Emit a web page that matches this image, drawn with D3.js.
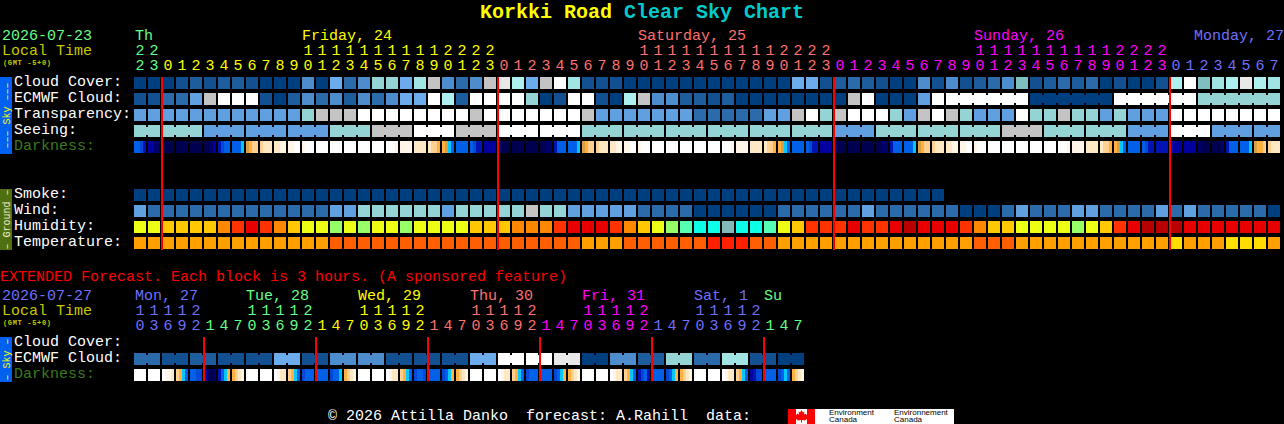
<!DOCTYPE html>
<html>
<head>
<meta charset="utf-8">
<title>Korkki Road Clear Sky Chart</title>
<script src="https://cdn.jsdelivr.net/npm/d3@7"></script>
<style>
body { margin: 0; background: #000; overflow: hidden; }
svg { display: block; }
text { font-family: "Liberation Mono", monospace; font-size: 15px; white-space: pre; }
rect { shape-rendering: crispEdges; }
</style>
</head>
<body>
<div id="chart"></div>
<script>
// ---- hours and days
var mainHours = [22,23,0,1,2,3,4,5,6,7,8,9,10,11,12,13,14,15,16,17,18,19,20,21,22,23,
  0,1,2,3,4,5,6,7,8,9,10,11,12,13,14,15,16,17,18,19,20,21,22,23,
  0,1,2,3,4,5,6,7,8,9,10,11,12,13,14,15,16,17,18,19,20,21,22,23,
  0,1,2,3,4,5,6,7];
var mainDayNames = ["Th", "Friday, 24", "Saturday, 25", "Sunday, 26", "Monday, 27"];
var mainDayStarts = [0, 2, 26, 50, 74];
var mainDayColors = ["#66ff88", "#ffff00", "#ff7070", "#ff00ff", "#7070ff"];

var extHours = [10,13,16,19,22,1,4,7,10,13,16,19,22,1,4,7,10,13,16,19,22,1,4,7,
  10,13,16,19,22,1,4,7,10,13,16,19,22,1,4,7,10,13,16,19,22,1,4,7];
var extDayNames = ["Mon, 27", "Tue, 28", "Wed, 29", "Thu, 30", "Fri, 31", "Sat, 1", "Su"];
var extDayStarts = [0, 5, 13, 21, 29, 37, 45];
var extDayColors = ["#7070ff", "#66ff88", "#ffff00", "#ff7070", "#ff00ff", "#7070ff", "#66ff88"];

// ---- sky rows, level 0 (dark blue) .. 13 (white)
var cloudCover = [0,0,0,1,2,1,2,2,1,0,0,0,4,0,6,3,4,8,8,6,9,
  11,4,3,4,11,12,10,6,11,13,9,1,1,1,0,0,0,0,0,0,0,0,0,0,0,0,6,6,1,2,3,
  2,1,0,0,4,1,4,1,2,3,4,7,1,2,3,2,3,0,1,0,0,1,10,13,7,9,10,12,10,9];
var ecmwfCloud = [1,1,3,3,5,11,13,13,13,1,0,2,4,3,4,2,4,3,4,6,6,
  13,10,2,13,13,13,13,8,0,1,13,13,1,0,10,11,4,4,2,2,1,2,0,0,0,0,0,0,0,0,11,
  13,0,0,0,5,13,13,13,13,13,13,13,0,0,0,0,0,0,13,13,13,13,13,13,8,8,8,8,8,8];
var transparency = [5,5,5,5,5,5,5,5,5,5,5,5,8,11,11,11,13,13,13,13,13,
  13,13,13,11,13,13,13,13,13,13,13,11,5,5,5,5,5,5,5,3,3,3,3,3,5,5,11,13,8,11,13,
  13,13,8,5,11,13,11,8,5,5,5,13,8,8,11,8,8,5,8,5,5,5,13,13,13,13,13,13,13,13];
var seeing = [8,8,8,8,8,5,5,5,5,5,5,5,5,5,8,8,8,11,11,11,13,
  13,13,11,11,11,13,13,13,13,13,13,8,8,8,8,8,8,8,8,8,8,8,8,8,8,8,8,8,8,5,5,
  5,8,8,8,8,8,8,8,8,8,11,11,11,8,8,8,8,8,8,5,5,5,13,13,13,5,5,5,5,5];
var smoke = [0,0,0,0,0,0,0,0,0,0,0,0,0,0,0,0,0,0,0,0,0,0,0,0,0,0,0,0,0,
  0,0,0,0,0,0,0,0,0,0,0,0,0,0,0,0,0,0,0,0,0,0,0,0,0,0,0,0,0];
var wind = [5,3,3,3,3,3,3,3,3,3,3,3,3,3,5,5,8,8,8,8,8,
  8,5,8,8,8,8,8,11,8,8,5,5,5,5,5,3,3,3,3,0,0,0,0,0,0,3,3,3,3,3,3,
  5,3,3,3,3,3,3,0,0,0,3,5,3,3,3,5,5,3,3,3,3,5,3,5,3,3,3,3,3,0];
var extEcmwf = [3,3,1,1,2,2,1,1,1,1,6,6,1,1,4,4,4,4,1,1,1,1,1,1,
  6,6,13,13,13,13,12,12,0,0,4,4,2,2,8,8,3,3,9,9,1,1,0,0];

// ---- humidity level 0 (wet) .. 9 (dry), temperature level 0 (warm) .. 3
var humidity = [5,5,4,4,4,4,3,2,1,2,3,4,5,5,6,5,6,5,5,6,5,
  5,5,5,4,4,4,3,3,3,2,1,1,1,2,3,4,5,6,7,8,8,9,8,8,7,5,4,2,2,2,1,
  2,2,1,0,1,1,1,2,3,4,4,5,5,5,5,6,5,4,2,1,0,0,0,1,1,1,1,1,1,1];
var temperature = [2,2,2,2,2,2,2,2,2,2,2,2,2,2,1,1,1,1,1,1,1,
  1,1,1,1,1,1,1,1,1,1,1,2,2,2,1,1,1,1,1,1,0,0,0,1,1,2,2,2,2,2,2,
  2,2,2,2,2,2,2,2,1,1,1,2,2,2,2,2,2,2,2,2,2,2,3,2,2,2,3,3,3,2];

// ---- darkness, one hex level per quarter block, left to right
var darkness = ["5543","2211","0000","0000","0000","0012","3455","5556","7899","9aaa","aabb","bbcc","bccc",
  "cccc","cccc","cccc","cccc","cccc","cccb","bbbb","aaaa","a998","8765","5555","5433","2222",
  "1000","0000","0000","0011","3555","5556","7899","9aaa","aabb","bbcc","bccc","cccc","cccc","cccc","cccc",
  "cccc","cccb","bbbb","aaaa","a998","8765","5555","5433","2222","1000","0000",
  "0000","0011","3555","5556","7899","9aaa","aabb","bbcc","bccc","cccc","cccc","cccc","cccc","cccc",
  "cccb","bbbb","aaaa","a998","8765","5555","5433","3333","3222","2222","1000","0001","3555","5556","7889","9aaa"];
var extDarkness = ["cccc","cccc","cbba","9865","5544","2101","3568","89ab",
  "cccc","cccc","cbaa","9865","4555","5555","4556","89ab",
  "cccc","cccc","cbaa","9865","4554","5555","4568","89ab",
  "cccc","cccc","cbaa","9865","4555","5555","4568","89ab",
  "cccc","cccc","cbaa","9865","3453","5555","4568","89ab",
  "cccc","cccc","cbaa","9865","2344","5555","4565","89ab"];

// ---- colours
var skyColors = ["#003f7f","#135091","#1d5d9d","#2b6bab","#4d8dcd","#60a0e0","#6cacec",
  "#7fbfbf","#94d4d4","#a0e4e4","#aef0f0","#c4c4c4","#e8e8e8","#ffffff"];
var humidityColors = ["#b80000","#e80000","#ff3300","#ff8800","#ffc800","#ecff14","#98ff66","#55ffb4","#0effe8","#82b8b8"];
var temperatureColors = ["#ff2000","#ff5f00","#ff9f00","#ffdd00"];
var darknessColors = ["#000050","#00006c","#0000a0","#0014b4","#0048d8","#0060e8","#00c8ff",
  "#d8a040","#ffb040","#ffd090","#ffe8c4","#fff5e8","#ffffff"];

var svgWidth = 1284;
var svgHeight = 424;
var left = 134;
var step = 14;

var svg = d3.select("#chart").append("svg")
  .attr("width", svgWidth)
  .attr("height", svgHeight);

var skyColor = d3.scaleOrdinal().domain(d3.range(skyColors.length)).range(skyColors);
var humColor = d3.scaleOrdinal().domain(d3.range(humidityColors.length)).range(humidityColors);
var tempColor = d3.scaleOrdinal().domain(d3.range(temperatureColors.length)).range(temperatureColors);
var darkColor = d3.scaleOrdinal().domain(d3.range(darknessColors.length)).range(darknessColors);

function addText(x, y, str, color, size, weight) {
  return svg.append("text").attr("x", x).attr("y", y).text(str)
    .attr("fill", color)
    .style("font-size", size ? size + "px" : null)
    .style("font-weight", weight || null);
}

function bandFor(n) {
  return d3.scaleBand().domain(d3.range(n))
    .range([left, left + step * n - 2])
    .paddingInner(2 / step).paddingOuter(0);
}

// one row of blocks; groupOf joins neighbours that share a forecast value
function drawRow(x, values, y, color, groupOf) {
  var g = svg.append("g");
  g.selectAll("rect.cell").data(values).enter().append("rect")
    .attr("class", "cell")
    .attr("x", (d, i) => x(i))
    .attr("y", y)
    .attr("width", x.bandwidth())
    .attr("height", 12)
    .attr("fill", d => color(d));
  if (!groupOf) return;
  var joined = d3.range(values.length - 1).filter(i => groupOf(i) === groupOf(i + 1));
  g.selectAll("rect.link").data(joined).enter().append("rect")
    .attr("class", "link")
    .attr("x", i => x(i) + x.bandwidth())
    .attr("y", y + 2)
    .attr("width", x.step() - x.bandwidth())
    .attr("height", 8)
    .attr("fill", i => color(values[i]));
}

function drawDarkness(x, values, y) {
  var g = svg.append("g");
  var cells = g.selectAll("g").data(values).enter().append("g")
    .attr("transform", (d, i) => `translate(${x(i)},${y})`);
  var slice = d3.scaleBand().domain(d3.range(4)).range([0, x.bandwidth()]);
  cells.selectAll("rect").data(d => d.split("").map(c => parseInt(c, 16))).enter().append("rect")
    .attr("x", (d, i) => slice(i))
    .attr("width", slice.bandwidth())
    .attr("height", 12)
    .attr("fill", d => darkColor(d));
}

function dayOf(starts, i) {
  return d3.bisectRight(starts, i) - 1;
}

function drawHours(x, hours, starts, colors, tensY, unitsY) {
  hours.forEach(function(h, i) {
    var c = colors[dayOf(starts, i)];
    var cx = x(i) + x.bandwidth() / 2;
    if (h >= 10) addText(cx, tensY, String(Math.floor(h / 10)), c).attr("text-anchor", "middle");
    addText(cx, unitsY, String(h % 10), c).attr("text-anchor", "middle");
  });
}

function drawSide(y0, y1, color, str, textColor) {
  svg.append("rect").attr("x", 0).attr("y", y0).attr("width", 12).attr("height", y1 - y0).attr("fill", color);
  svg.append("text")
    .attr("transform", `translate(10,${(y0 + y1) / 2}) rotate(-90)`)
    .attr("text-anchor", "middle")
    .attr("fill", textColor)
    .style("font-size", "10px")
    .text(str);
}

function drawMidnights(x, cols, y0, y1) {
  svg.append("g").selectAll("rect").data(cols).enter().append("rect")
    .attr("x", d => x(d) - 1)
    .attr("y", y0)
    .attr("width", 2)
    .attr("height", y1 - y0)
    .attr("fill", "#ff0000");
}

// ---- title
addText(480, 18, "Korkki Road", "#ffff00", 20, "bold");
addText(624, 18, "Clear Sky Chart", "#00cccc", 20, "bold");

// ---- main chart
var x = bandFor(mainHours.length);
addText(2, 40, "2026-07-23", "#66ff88");
addText(2, 55, "Local Time", "#c8c800");
addText(3, 65, "(GMT -5+0)", "#c8c800", 7, "bold").attr("textLength", 48);

mainDayNames.forEach(function(name, i) {
  var tenAt = mainDayStarts[i] + 10;
  if (i == mainDayNames.length - 1) {
    addText(svgWidth, 40, name, mainDayColors[i]).attr("text-anchor", "end");
  } else if (i == 0) {
    addText(x(0) + 1, 40, name, mainDayColors[i]);
  } else {
    addText(x(tenAt), 40, name, mainDayColors[i]);
  }
});
drawHours(x, mainHours, mainDayStarts, mainDayColors, 55, 70);

var skyLabels = ["Cloud Cover:", "ECMWF Cloud:", "Transparency:", "Seeing:"];
var groundLabels = ["Smoke:", "Wind:", "Humidity:", "Temperature:"];
skyLabels.forEach((t, i) => addText(14, 86 + i * 16, t, "#ffffff"));
addText(14, 150, "Darkness:", "#3a7a1a");
groundLabels.forEach((t, i) => addText(14, 198 + i * 16, t, "#ffffff"));

drawRow(x, cloudCover, 77, skyColor);
drawRow(x, ecmwfCloud, 93, skyColor, i => i < 58 ? "h" + i : Math.floor((i - 58) / 6));
drawRow(x, transparency, 109, skyColor);
drawRow(x, seeing, 125, skyColor, i => Math.floor((i - 2) / 3));
drawDarkness(x, darkness, 141);

drawRow(bandFor(smoke.length), smoke, 189, skyColor);
drawRow(x, wind, 205, skyColor);
drawRow(x, humidity, 221, humColor);
drawRow(x, temperature, 237, tempColor);

drawSide(77, 154, "#0060f0", "\u2013\u2013\u2013 Sky \u2013\u2013\u2013", "#ffff00");
drawSide(189, 250, "#4f6f10", "\u2013 Ground \u2013", "#f0f0d0");
drawMidnights(x, mainDayStarts.slice(1), 77, 250);

// ---- extended forecast
addText(0, 281, "EXTENDED Forecast. Each block is 3 hours. (A sponsored feature)", "#ff0000");

var xe = bandFor(extHours.length);
addText(2, 300, "2026-07-27", "#7070ff");
addText(2, 315, "Local Time", "#c8c800");
addText(3, 325, "(GMT -5+0)", "#c8c800", 7, "bold").attr("textLength", 48);

extDayNames.forEach(function(name, i) {
  // labels start over the 10 o'clock block, the first and last day have none
  var col = i == 0 ? 0 : (i == extDayNames.length - 1 ? extDayStarts[i] : extDayStarts[i] + 3);
  addText(xe(col) + (i == 0 ? 1 : 0), 300, name, extDayColors[i]);
});
drawHours(xe, extHours, extDayStarts, extDayColors, 315, 330);

addText(14, 346, "Cloud Cover:", "#ffffff");
addText(14, 362, "ECMWF Cloud:", "#ffffff");
addText(14, 378, "Darkness:", "#3a7a1a");

drawRow(xe, extEcmwf, 353, skyColor, i => Math.floor(i / 2));
drawDarkness(xe, extDarkness, 369);
drawSide(337, 382, "#0060f0", "\u2013 Sky \u2013", "#ffff00");
drawMidnights(xe, extDayStarts.slice(1), 337, 381);

// ---- footer
addText(328, 420, "\u00a9 2026 Attilla Danko  forecast: A.Rahill  data:", "#ffffff");

var logo = svg.append("g").attr("transform", "translate(788,409)");
logo.append("rect").attr("width", 166).attr("height", 15).attr("fill", "#ffffff");
logo.append("rect").attr("width", 8).attr("height", 15).attr("fill", "#ff0000");
logo.append("rect").attr("x", 19).attr("width", 8).attr("height", 15).attr("fill", "#ff0000");
logo.append("path")
  .attr("d", "M13.5 1l1.5 2.5 1.5-1-0.5 3 2-1 0.5 1.5 1.5 0-1 2.5 1 0.5-3 2.5-3-0.5v2.5h-1v-2.5l-3 0.5-3-2.5 1-0.5-1-2.5 1.5 0 0.5-1.5 2 1-0.5-3 1.5 1z")
  .attr("fill", "#ff0000");
[["Environment", 41], ["Environnement", 106]].forEach(function(d) {
  logo.append("text").attr("x", d[1]).attr("y", 6).attr("fill", "#000").style("font-size", "8px").style("font-family", "Liberation Sans").text(d[0]);
  logo.append("text").attr("x", d[1]).attr("y", 13).attr("fill", "#000").style("font-size", "8px").style("font-family", "Liberation Sans").text("Canada");
});
</script>
</body>
</html>
